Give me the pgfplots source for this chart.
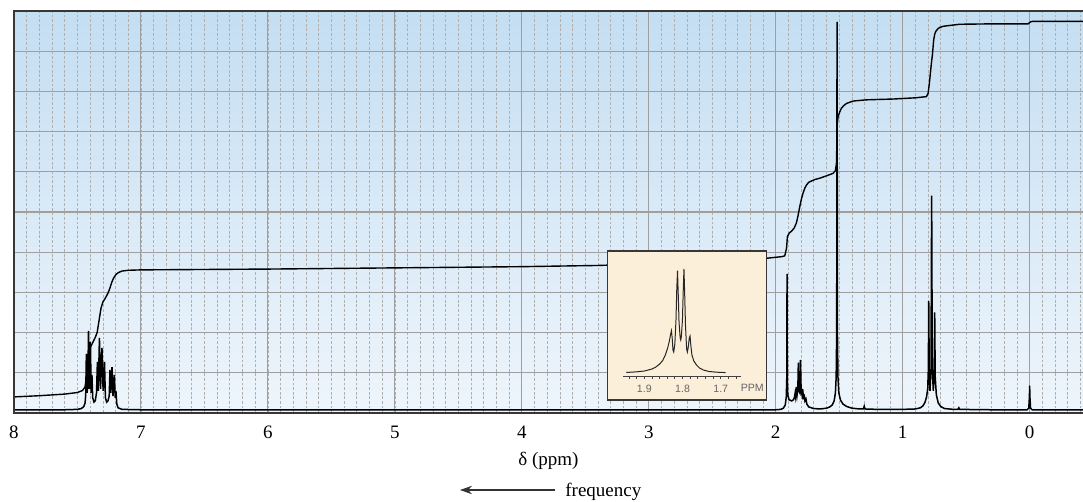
\documentclass[border=0pt]{standalone}
\usepackage{fontspec}
\setmainfont{Liberation Serif}
\newfontfamily\insetfont{Liberation Sans}
\usepackage{pgfplots}
\pgfplotsset{compat=1.18}
\usetikzlibrary{arrows.meta}
\definecolor{bgtop}{RGB}{196,222,242}
\definecolor{bgbot}{RGB}{238,245,252}
\definecolor{insetbg}{RGB}{252,239,217}
\definecolor{frame}{RGB}{55,55,55}
\begin{document}
\begin{tikzpicture}
\path[use as bounding box] (-7pt,-44.5pt) rectangle (534.5pt,206.5pt);
\begin{axis}[
  at={(0pt,0pt)}, anchor=south west,
  scale only axis, width=534.5pt, height=201pt,
  xmin=-0.42, xmax=8, ymin=0, ymax=10, x dir=reverse,
  xtick={0,...,8}, ytick={1,...,9}, yticklabels={},
  minor xtick={-0.4,-0.3,...,7.95},
  major tick length=0pt, minor tick length=0pt,
  xmajorgrids, ymajorgrids, xminorgrids,
  major grid style={color=gray!75, line width=0.55pt},
  minor grid style={color=gray!62, line width=0.35pt, dash pattern=on 1.4pt off 0.9pt},
  axis line style={draw=none},
  axis background/.style={top color=bgtop, bottom color=bgbot},
  /pgf/number format/assume math mode=true,
  xticklabel style={font=\fontsize{9.5}{11}\selectfont, anchor=base, yshift=-12.65pt},
  xlabel={δ (ppm)},
  xlabel style={font=\fontsize{9.5}{11}\selectfont, at={(axis description cs:0.5,0)}, anchor=base, yshift=-26.5pt},
]
% spectrum
\addplot[black, line width=0.75pt] coordinates {
(8.00,0.08) (7.60,0.08) (7.50,0.09) (7.47,0.11) (7.45,0.16) (7.44,0.25) (7.435,0.45) (7.43,1.47) (7.425,0.5) (7.419,0.65) (7.413,2.04) (7.407,0.6) (7.398,1.77) (7.392,0.5) (7.386,0.95) (7.38,0.38) (7.37,0.27) (7.36,0.3) (7.35,0.5) (7.343,1.27) (7.336,0.55) (7.327,1.87) (7.318,0.6) (7.307,1.62) (7.298,0.55) (7.287,1.27) (7.28,0.38) (7.27,0.27) (7.26,0.3) (7.25,0.42) (7.244,1.07) (7.237,0.5) (7.228,1.14) (7.22,0.42) (7.209,0.95) (7.203,0.38) (7.197,0.55) (7.19,0.22) (7.18,0.13) (7.15,0.09) (7.0,0.08) (2.0,0.08) (1.96,0.09) (1.94,0.12) (1.925,0.2) (1.917,0.4) (1.913,0.9) (1.911,3.46) (1.909,0.9) (1.905,0.45) (1.895,0.33) (1.875,0.3) (1.86,0.33) (1.852,0.4) (1.848,0.48) (1.844,0.4) (1.838,0.65) (1.832,0.45) (1.826,0.6) (1.822,1.25) (1.818,0.55) (1.81,0.5) (1.805,1.32) (1.8,0.55) (1.793,0.45) (1.788,0.6) (1.782,0.38) (1.775,0.42) (1.77,0.3) (1.762,0.35) (1.755,0.22) (1.74,0.15) (1.70,0.11) (1.65,0.1) (1.60,0.12) (1.575,0.15) (1.555,0.2) (1.54,0.3) (1.53,0.5) (1.524,0.9) (1.52,2.0) (1.517,9.73) (1.514,2.0) (1.51,0.9) (1.503,0.5) (1.49,0.32) (1.47,0.22) (1.44,0.16) (1.40,0.12) (1.34,0.1) (1.31,0.1) (1.303,0.17) (1.297,0.1) (1.2,0.09) (1.0,0.09) (0.9,0.1) (0.86,0.13) (0.84,0.18) (0.825,0.26) (0.812,0.4) (0.803,0.6) (0.798,1.1) (0.795,2.79) (0.791,1.0) (0.785,0.55) (0.777,1.1) (0.772,5.41) (0.767,1.1) (0.759,0.55) (0.752,0.9) (0.748,2.5) (0.744,0.9) (0.735,0.45) (0.72,0.25) (0.70,0.16) (0.67,0.11) (0.60,0.09) (0.565,0.09) (0.558,0.13) (0.551,0.09) (0.30,0.08) (0.02,0.08) (0.007,0.12) (0.002,0.4) (0.0,0.68) (-0.002,0.4) (-0.007,0.12) (-0.02,0.08) (-0.42,0.08)
};
% integral
\addplot[black, line width=0.7pt] coordinates {
(8.00,0.40) (7.80,0.43) (7.60,0.47) (7.50,0.51) (7.46,0.56) (7.44,0.65) (7.43,0.9) (7.42,1.25) (7.41,1.5) (7.40,1.62) (7.38,1.75) (7.36,1.88) (7.345,2.0) (7.33,2.3) (7.315,2.6) (7.30,2.76) (7.28,2.86) (7.26,2.98) (7.245,3.1) (7.23,3.25) (7.215,3.36) (7.20,3.43) (7.18,3.49) (7.15,3.53) (7.10,3.55) (7.0,3.56) (6.0,3.58) (5.0,3.61) (4.0,3.64) (3.4,3.67) (2.5,3.76) (2.07,3.85) (1.95,3.89) (1.929,3.91) (1.915,4.1) (1.908,4.39) (1.893,4.48) (1.876,4.52) (1.855,4.6) (1.837,4.73) (1.825,4.9) (1.811,5.13) (1.798,5.32) (1.785,5.47) (1.77,5.6) (1.758,5.67) (1.74,5.74) (1.719,5.77) (1.69,5.81) (1.654,5.84) (1.60,5.9) (1.549,5.96) (1.530,6.03) (1.522,6.2) (1.518,6.8) (1.515,7.2) (1.509,7.37) (1.495,7.5) (1.483,7.58) (1.463,7.65) (1.443,7.70) (1.391,7.76) (1.286,7.79) (1.076,7.81) (0.90,7.84) (0.813,7.87) (0.800,7.95) (0.79,8.2) (0.782,8.45) (0.774,8.7) (0.766,8.91) (0.756,9.28) (0.748,9.42) (0.740,9.49) (0.725,9.55) (0.709,9.59) (0.68,9.62) (0.656,9.63) (0.551,9.67) (0.30,9.68) (0.012,9.68) (0.004,9.70) (-0.006,9.73) (-0.02,9.74) (-0.42,9.74)
};
\end{axis}
\draw[frame, line width=1.1pt, line join=miter] (534.5pt,0pt) -- (0pt,0pt) -- (0pt,201pt) -- (534.5pt,201pt);
\draw[{Stealth[length=6pt,width=4.2pt]}-, line width=0.65pt, black!80] (223pt,-38.5pt) -- (270.5pt,-38.5pt);
\node[anchor=base west, inner sep=0pt, font=\fontsize{9.5}{11}\selectfont] at (275.5pt,-41.85pt) {frequency};
% inset box with spectrum
\begin{axis}[
  at={(296.65pt,6.5pt)}, anchor=south west,
  scale only axis, width=79.7pt, height=74.5pt,
  xmin=1.578, xmax=1.998, x dir=reverse, ymin=0, ymax=149,
  xtick=\empty, ytick=\empty,
  axis background/.style={fill=insetbg},
  axis line style={draw=frame, line width=0.6pt},
]
\addplot[black!85, line width=0.5pt] coordinates {
(1.948,27.5) (1.92,28.2) (1.9,29) (1.88,31) (1.87,33) (1.86,36) (1.852,39.5) (1.845,45) (1.839,52) (1.835,58) (1.831,66) (1.829,69.3) (1.827,62) (1.825,50) (1.823,48) (1.82,56) (1.817,80) (1.815,110) (1.813,129.3) (1.811,105) (1.809,78) (1.806,62) (1.8045,60) (1.803,63) (1.8,80) (1.798,108) (1.796,131) (1.794,105) (1.792,75) (1.789,51) (1.787,48) (1.785,52) (1.782,62) (1.780,64) (1.778,55) (1.775,45) (1.77,39) (1.763,35) (1.755,32) (1.745,30) (1.73,28.5) (1.71,27.8) (1.686,27.4)
};
\end{axis}
% inset scale
\begin{axis}[
  at={(304.65pt,18.5pt)}, anchor=south west,
  scale only axis, width=58.85pt, height=5pt, clip=false,
  xmin=1.647, xmax=1.955, x dir=reverse, ymin=0, ymax=1,
  axis x line=bottom, axis y line=none,
  x axis line style={-, black!75, line width=0.45pt},
  xtick={1.94,1.92,1.90,1.88,1.86,1.84,1.82,1.80,1.78,1.76,1.74,1.72,1.70,1.68,1.66},
  xticklabels={,,1.9,,,,,1.8,,,,,1.7,,},
  tick align=outside, major tick length=1.3pt,
  tick style={black!75, line width=0.4pt},
  xticklabel style={font=\insetfont\fontsize{5.3}{6}\selectfont, text=black!60, yshift=0.3pt},
]
\node[anchor=base west, inner sep=0pt, font=\insetfont\fontsize{5.3}{6}\selectfont, text=black!60, yshift=-7.6pt, xshift=-0.3pt] at (axis cs:1.647,0) {PPM};
\end{axis}
\end{tikzpicture}
\end{document}
